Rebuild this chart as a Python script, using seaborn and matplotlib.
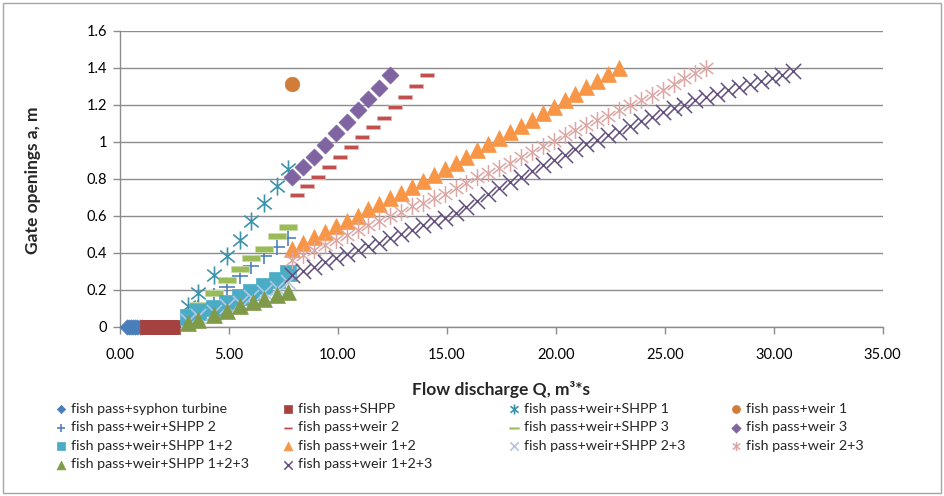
import matplotlib
matplotlib.use('Agg')

import matplotlib.pyplot as plt
import seaborn as sns
from matplotlib.path import Path
from matplotlib.patches import Rectangle
from matplotlib.ticker import FuncFormatter, MultipleLocator

# values (Q in m3*s, gate opening a in m)
syphon_q = [0.3, 0.4, 0.5, 0.6, 0.7, 0.8, 0.9, 1.0]
syphon_a = [0, 0, 0, 0, 0, 0, 0, 0]

shpp_q = [1.25, 1.35, 1.45, 1.55, 1.65, 1.75, 1.85, 1.95, 2.05, 2.15, 2.25, 2.35, 2.45]
shpp_a = [0, 0, 0, 0, 0, 0, 0, 0, 0, 0, 0, 0, 0]

shpp1_q = [3.1, 3.6, 4.3, 4.9, 5.5, 6.0, 6.6, 7.2, 7.7]
shpp1_a = [0.11, 0.18, 0.28, 0.38, 0.47, 0.57, 0.67, 0.76, 0.85]

weir1_q = [7.9]
weir1_a = [1.31]

shpp2_q = [3.6, 4.3, 4.9, 5.5, 6.0, 6.6, 7.2, 7.7]
shpp2_a = [0.10, 0.165, 0.215, 0.275, 0.33, 0.38, 0.43, 0.48]

weir2_q = [8.1, 8.6, 9.1, 9.6, 10.1, 10.6, 11.1, 11.6, 12.1, 12.6, 13.1, 13.6, 14.1]
weir2_a = [0.71, 0.76, 0.81, 0.865, 0.915, 0.97, 1.025, 1.08, 1.13, 1.19, 1.24, 1.30, 1.36]

shpp3_q = [3.6, 4.3, 4.9, 5.5, 6.0, 6.6, 7.2, 7.7]
shpp3_a = [0.12, 0.18, 0.25, 0.31, 0.37, 0.42, 0.49, 0.54]

weir3_q = [7.9, 8.4, 8.9, 9.4, 9.9, 10.4, 10.9, 11.4, 11.9, 12.4]
weir3_a = [0.81, 0.865, 0.92, 0.98, 1.045, 1.105, 1.17, 1.23, 1.29, 1.36]

shpp12_q = [3.1, 3.6, 4.3, 4.9, 5.5, 6.0, 6.6, 7.2, 7.7]
shpp12_a = [0.05, 0.08, 0.10, 0.13, 0.16, 0.19, 0.22, 0.25, 0.29]

weir12_q = [7.9, 8.4, 8.9, 9.4, 9.9, 10.4, 10.9, 11.4, 11.9, 12.4, 12.9, 13.4, 13.9, 14.4, 14.9, 15.4,
            15.9, 16.4, 16.9, 17.4, 17.9, 18.4, 18.9, 19.4, 19.9, 20.4, 20.9, 21.4, 21.9, 22.4, 22.9]
weir12_a = [0.42, 0.455, 0.483, 0.514, 0.544, 0.573, 0.60, 0.635, 0.663, 0.695, 0.725, 0.755, 0.79, 0.82,
            0.855, 0.886, 0.92, 0.955, 0.986, 1.02, 1.054, 1.087, 1.12, 1.155, 1.19, 1.225, 1.26, 1.295,
            1.33, 1.365, 1.40]

shpp23_q = [3.1, 3.6, 4.3, 4.9, 5.5, 6.0, 6.6, 7.2, 7.7]
shpp23_a = [0.03, 0.06, 0.08, 0.11, 0.13, 0.16, 0.19, 0.21, 0.24]

weir23_q = [7.9, 8.4, 8.9, 9.4, 9.9, 10.4, 10.9, 11.4, 11.9, 12.4, 12.9, 13.4, 13.9, 14.4, 14.9, 15.4,
            15.9, 16.4, 16.9, 17.4, 17.9, 18.4, 18.9, 19.4, 19.9, 20.4, 20.9, 21.4, 21.9, 22.4, 22.9,
            23.4, 23.9, 24.4, 24.9, 25.4, 25.9, 26.4, 26.9]
weir23_a = [0.36, 0.388, 0.415, 0.44, 0.468, 0.495, 0.522, 0.55, 0.573, 0.598, 0.62, 0.65, 0.67, 0.697,
            0.72, 0.75, 0.778, 0.807, 0.832, 0.86, 0.886, 0.915, 0.946, 0.977, 1.005, 1.035, 1.063, 1.09,
            1.117, 1.14, 1.17, 1.20, 1.225, 1.25, 1.28, 1.31, 1.343, 1.37, 1.397]

shpp123_q = [3.1, 3.6, 4.3, 4.9, 5.5, 6.1, 6.6, 7.2, 7.7]
shpp123_a = [0.02, 0.036, 0.063, 0.087, 0.112, 0.135, 0.15, 0.17, 0.19]

weir123_q = [7.9, 8.4, 8.9, 9.4, 9.9, 10.4, 10.9, 11.4, 11.9, 12.4, 12.9, 13.4, 13.9, 14.4, 14.9, 15.4,
             15.9, 16.4, 16.9, 17.4, 17.9, 18.4, 18.9, 19.4, 19.9, 20.4, 20.9, 21.4, 21.9, 22.4, 22.9,
             23.4, 23.9, 24.4, 24.9, 25.4, 25.9, 26.4, 26.9, 27.4, 27.9, 28.4, 28.9, 29.4, 29.9, 30.4, 30.9]
weir123_a = [0.28, 0.30, 0.325, 0.35, 0.37, 0.395, 0.415, 0.435, 0.455, 0.478, 0.50, 0.525, 0.55, 0.57,
             0.59, 0.615, 0.645, 0.68, 0.715, 0.748, 0.78, 0.81, 0.84, 0.872, 0.90, 0.928, 0.958, 0.985,
             1.01, 1.035, 1.055, 1.085, 1.11, 1.135, 1.16, 1.18, 1.20, 1.225, 1.243, 1.26, 1.28, 1.295,
             1.31, 1.33, 1.345, 1.36, 1.38]

# excel-like markers
star = Path([(0, -1), (0, 1), (-0.8, -0.65), (0.8, 0.65), (-0.8, 0.65), (0.8, -0.65)],
            [Path.MOVETO, Path.LINETO] * 3)
thin_dash = [(-1, -0.35), (1, -0.35), (1, 0.35), (-1, 0.35)]
wide_dash = [(-1, -0.3), (1, -0.3), (1, 0.3), (-1, 0.3)]

# label, q, a, marker, size, face colour, edge colour, edge width
series = [
    ('fish pass+syphon turbine', syphon_q, syphon_a, 'D', 60, '#4A7EBB', '#4A7EBB', 0.5),
    ('fish pass+SHPP', shpp_q, shpp_a, 's', 90, '#A5423F', '#A5423F', 0.5),
    ('fish pass+weir+SHPP 1', shpp1_q, shpp1_a, star, 170, '#3C93AC', '#3C93AC', 1.2),
    ('fish pass+weir 1', weir1_q, weir1_a, 'o', 110, '#D07C3B', '#D07C3B', 0.5),
    ('fish pass+weir+SHPP 2', shpp2_q, shpp2_a, '+', 130, '#4F81BD', '#4F81BD', 1.2),
    ('fish pass+weir 2', weir2_q, weir2_a, thin_dash, 90, '#C0504D', '#E8B5B4', 0.6),
    ('fish pass+weir+SHPP 3', shpp3_q, shpp3_a, wide_dash, 150, '#9BBB59', '#C9DCA8', 0.6),
    ('fish pass+weir 3', weir3_q, weir3_a, 'D', 75, '#8064A2', '#8064A2', 0.5),
    ('fish pass+weir+SHPP 1+2', shpp12_q, shpp12_a, 's', 120, '#4BACC6', '#4BACC6', 0.5),
    ('fish pass+weir 1+2', weir12_q, weir12_a, '^', 130, '#F79646', '#F79646', 0.5),
    ('fish pass+weir+SHPP 2+3', shpp23_q, shpp23_a, 'x', 120, '#B3C6E3', '#B3C6E3', 1.2),
    ('fish pass+weir 2+3', weir23_q, weir23_a, star, 150, '#DDA7A5', '#DDA7A5', 1.1),
    ('fish pass+weir+SHPP 1+2+3', shpp123_q, shpp123_a, '^', 130, '#7F9A48', '#7F9A48', 0.5),
    ('fish pass+weir 1+2+3', weir123_q, weir123_a, 'x', 120, '#63507F', '#63507F', 1.1),
]

sns.set_theme(style='white')
plt.rcParams['font.family'] = ['Lato', 'DejaVu Sans']

fig = plt.figure(figsize=(9.45, 4.96), dpi=100)
ax = fig.add_axes([120 / 945, 1 - 326.7 / 496, (882.7 - 120) / 945, (326.7 - 30.7) / 496])

for label, q, a, marker, size, face, edge, lw in series:
    sns.scatterplot(x=q, y=a, ax=ax, marker=marker, s=size, color=face,
                    edgecolor=edge, linewidth=lw, label=label, clip_on=False, zorder=3)

handles, labels = ax.get_legend_handles_labels()
if ax.get_legend() is not None:
    ax.get_legend().remove()

ax.set_xlim(0, 35)
ax.set_ylim(0, 1.6)
ax.xaxis.set_major_locator(MultipleLocator(5))
ax.yaxis.set_major_locator(MultipleLocator(0.2))
ax.xaxis.set_major_formatter(FuncFormatter(lambda v, p: f'{v:.2f}'))
ax.yaxis.set_major_formatter(FuncFormatter(lambda v, p: f'{v:g}'))
ax.yaxis.grid(True, color='#8C8C8C', linewidth=1)
ax.set_axisbelow(True)
for side in ['top', 'right']:
    ax.spines[side].set_visible(False)
for side in ['left', 'bottom']:
    ax.spines[side].set_color('#8C8C8C')
    ax.spines[side].set_linewidth(1)
ax.tick_params(axis='both', direction='out', length=5, width=1, color='#8C8C8C',
               labelsize=10.5, labelcolor='black', left=True, bottom=True)
ax.tick_params(axis='x', pad=10)
ax.tick_params(axis='y', pad=4)
ax.set_xlabel('')
ax.set_ylabel('')

fig.text(501 / 945, 1 - 389 / 496, 'Flow discharge Q, m³*s', ha='center', va='center',
         fontsize=12.5, fontweight='bold')
fig.text(33 / 945, 1 - 180 / 496, 'Gate openings a, m', ha='center', va='center',
         rotation=90, fontsize=12.5, fontweight='bold')

# legend laid out like excel: rows read left to right, equal column widths
col_x = [55, 282, 508, 730]
for c in range(4):
    fig.legend(handles[c::4], labels[c::4], loc='upper left',
               bbox_to_anchor=(col_x[c] / 945, 1 - 403 / 496), frameon=False,
               fontsize=10.3, markerscale=0.55, handlelength=0.8, handletextpad=0.3,
               labelspacing=0.45, borderpad=0, borderaxespad=0)

fig.patches.append(Rectangle((3 / 945, 3 / 496), 938 / 945, 490 / 496, transform=fig.transFigure,
                             fill=False, edgecolor='#A6A6A6', linewidth=1))

fig.savefig('out.png', dpi=100, facecolor='white')
plt.close(fig)
